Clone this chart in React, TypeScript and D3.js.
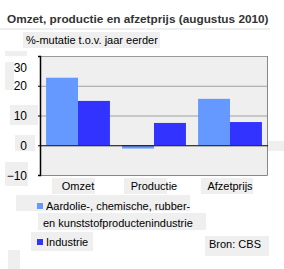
import * as d3 from "d3";
import { useEffect, useRef } from "react";

const categories = ["Omzet", "Productie", "Afzetprijs"];
const seriesNames = ["Aardolie-, chemische, rubber-|en kunststofproductenindustrie", "Industrie"];
const aardolieValues = [22.7, -1.1, 15.6];
const industrieValues = [14.9, 7.5, 7.8];
const yTicks = [-10, 0, 10, 20, 30];
const title = "Omzet, productie en afzetprijs (augustus 2010)";
const yLabel = "%-mutatie t.o.v. jaar eerder";
const source = "Bron: CBS";

const colors = ["#6699ff", "#3333ff"];
const patch = "#efefef";

function App() {
  const ref = useRef<SVGSVGElement | null>(null);

  useEffect(() => {
    const svg = d3.select(ref.current);
    svg.selectAll("*").remove();

    const margin = { top: 56, left: 40, right: 16, bottom: 94 };
    const width = 284 - margin.left - margin.right;
    const height = 269 - margin.top - margin.bottom;

    // background patches behind the labels
    const patches = [
      [0, 28, 270, 2],
      [23, 32, 137, 16],
      [5, 51, 22, 5],
      [5, 62, 9, 28],
      [10, 105, 28, 20],
      [15, 135, 20, 16],
      [5, 162, 23, 24],
      [52, 178, 43, 16],
      [124, 178, 43, 16],
      [201, 178, 52, 16],
      [16, 195, 174, 16],
      [38, 213, 168, 17],
      [31, 232, 62, 19],
      [205, 236, 64, 20],
      [8, 250, 12, 19],
      [268, 141, 16, 10],
    ];
    svg
      .selectAll("rect.patch")
      .data(patches)
      .enter()
      .append("rect")
      .attr("class", "patch")
      .attr("x", (d) => d[0])
      .attr("y", (d) => d[1])
      .attr("width", (d) => d[2])
      .attr("height", (d) => d[3])
      .attr("fill", patch);

    // title
    svg
      .append("text")
      .attr("x", 7)
      .attr("y", 23)
      .attr("font-size", 11.8)
      .attr("font-weight", "bold")
      .attr("fill", "#333")
      .text(title);

    svg
      .append("text")
      .attr("x", 26)
      .attr("y", 44)
      .attr("font-size", 11)
      .attr("fill", "#000")
      .text(yLabel);

    const g = svg
      .append("g")
      .attr("transform", `translate(${margin.left},${margin.top})`);

    const xScale = d3.scaleBand().domain(categories).range([0, width]);
    const xInner = d3
      .scaleBand()
      .domain(["a", "b"])
      .range([0, xScale.bandwidth()])
      .paddingOuter(0.19);
    const yScale = d3.scaleLinear().domain([-10, 30]).range([height, 0]);

    // plot area
    g.append("rect")
      .attr("width", width)
      .attr("height", height)
      .attr("fill", "#efefef");

    // grid lines
    g.selectAll("line.grid")
      .data(yTicks.filter((t) => t !== 0 && t !== -10))
      .enter()
      .append("line")
      .attr("x1", 0)
      .attr("x2", width)
      .attr("y1", (d) => yScale(d) + 0.5)
      .attr("y2", (d) => yScale(d) + 0.5)
      .attr("stroke", (d) => (d === 30 ? "#999" : "#a0a0a0"));

    // border right / bottom
    g.append("path")
      .attr("d", `M0,${height + 0.5}H${width - 0.5}V0`)
      .attr("fill", "none")
      .attr("stroke", "#888");

    const bars = [aardolieValues, industrieValues];
    bars.forEach((vals, si) => {
      g.selectAll(`rect.s${si}`)
        .data(vals)
        .enter()
        .append("rect")
        .attr("x", (d, i) => (xScale(categories[i]) ?? 0) + (xInner(si === 0 ? "a" : "b") ?? 0))
        .attr("width", xInner.bandwidth())
        .attr("y", (d) => yScale(Math.max(0, d)))
        .attr("height", (d) => Math.abs(yScale(d) - yScale(0)))
        .attr("fill", colors[si]);
    });

    // zero line
    g.append("line")
      .attr("x1", 0)
      .attr("x2", width)
      .attr("y1", yScale(0) + 0.5)
      .attr("y2", yScale(0) + 0.5)
      .attr("stroke", "#000");

    // y axis
    const yAxis = g
      .append("g")
      .call(d3.axisLeft(yScale).tickValues(yTicks).tickSize(2).tickPadding(11));
    yAxis.select(".domain").attr("stroke", "#000").attr("stroke-width", 1.5);
    yAxis.selectAll(".tick line").attr("stroke", "#000");
    yAxis
      .selectAll(".tick text")
      .attr("font-size", 12)
      .attr("font-family", "Liberation Sans, Arial, sans-serif")
      .attr("fill", "#000")
      .attr("dy", (d: any) => (d === 30 ? "1.25em" : "0.35em"));

    // category labels
    g.selectAll("text.cat")
      .data(categories)
      .enter()
      .append("text")
      .attr("class", "cat")
      .attr("x", (d) => (xScale(d) ?? 0) + xScale.bandwidth() / 2)
      .attr("y", height + 15)
      .attr("text-anchor", "middle")
      .attr("font-size", 11)
      .text((d) => d);

    // legend
    const legendY = [203, 239];
    seriesNames.forEach((name, i) => {
      const lines = name.split("|");
      svg
        .append("rect")
        .attr("x", 37)
        .attr("y", legendY[i])
        .attr("width", 6)
        .attr("height", 6)
        .attr("fill", colors[i]);
      lines.forEach((line, li) => {
        svg
          .append("text")
          .attr("x", li === 0 ? 46 : 43)
          .attr("y", legendY[i] + 7 + li * 17)
          .attr("font-size", 11)
          .text(line);
      });
    });

    svg
      .append("text")
      .attr("x", 209)
      .attr("y", 248)
      .attr("font-size", 11)
      .text(source);
  }, []);

  return (
    <div style={{ position: "absolute", left: 0, top: 0 }}>
      <svg
        ref={ref}
        width={284}
        height={269}
        style={{ display: "block", fontFamily: "Liberation Sans, Arial, sans-serif" }}
      />
    </div>
  );
}

export default App;
